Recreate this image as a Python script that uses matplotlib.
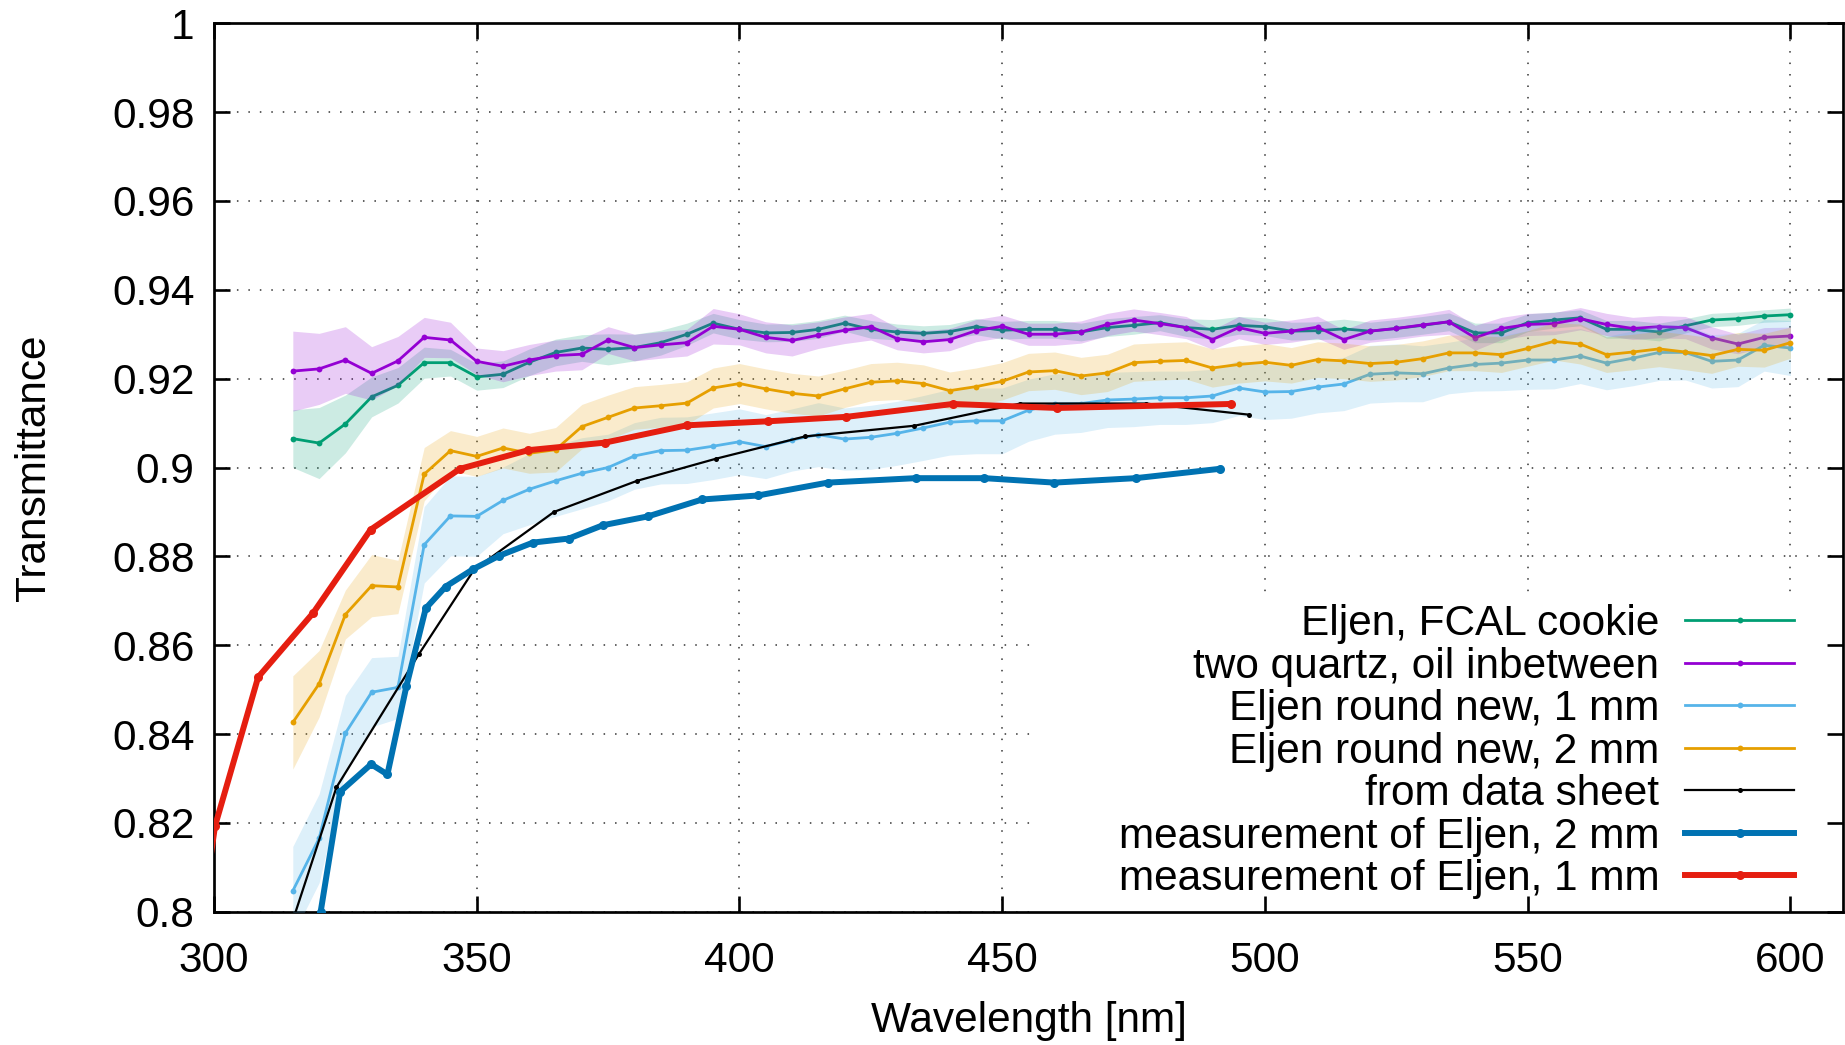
import matplotlib
matplotlib.use("Agg")
import matplotlib.pyplot as plt
from matplotlib.patches import Rectangle
from matplotlib.ticker import FuncFormatter
import numpy as np

plt.rcParams['font.family'] = ['Liberation Sans', 'DejaVu Sans']

# ------------------------------------------------------------------
# data
# ------------------------------------------------------------------
# wavelength grid of the four spectrometer scans (nm)
wl_scan = [315, 320, 325, 330, 335, 340, 345, 350, 355, 360, 365, 370, 375, 380,
           385, 390, 395, 400, 405, 410, 415, 420, 425, 430, 435, 440, 445, 450,
           455, 460, 465, 470, 475, 480, 485, 490, 495, 500, 505, 510, 515, 520,
           525, 530, 535, 540, 545, 550, 555, 560, 565, 570, 575, 580, 585, 590,
           595, 600]

# Eljen, FCAL cookie
cookie_T = [0.9065, 0.9055, 0.9098, 0.9159, 0.9185, 0.9236, 0.9236, 0.9204, 0.9210,
            0.9237, 0.9259, 0.9269, 0.9266, 0.9270, 0.9281, 0.9300, 0.9325, 0.9311,
            0.9303, 0.9304, 0.9311, 0.9325, 0.9311, 0.9305, 0.9302, 0.9306, 0.9317,
            0.9309, 0.9311, 0.9311, 0.9305, 0.9315, 0.9320, 0.9326, 0.9315, 0.9311,
            0.9320, 0.9317, 0.9307, 0.9308, 0.9312, 0.9307, 0.9313, 0.9320, 0.9328,
            0.9303, 0.9303, 0.9326, 0.9332, 0.9337, 0.9311, 0.9311, 0.9305, 0.9319,
            0.9332, 0.9335, 0.9341, 0.9344]
cookie_err = [0.0065, 0.0080, 0.0065, 0.0045, 0.0040, 0.0035, 0.0030, 0.0030, 0.0030,
              0.0030, 0.0030, 0.0030, 0.0035, 0.0030, 0.0028, 0.0025, 0.0022, 0.0022,
              0.0020, 0.0020, 0.0020, 0.0018, 0.0020, 0.0018, 0.0017, 0.0016, 0.0018,
              0.0020, 0.0020, 0.0020, 0.0020, 0.0020, 0.0020, 0.0018, 0.0020, 0.0022,
              0.0020, 0.0020, 0.0020, 0.0020, 0.0022, 0.0020, 0.0020, 0.0020, 0.0020,
              0.0022, 0.0022, 0.0020, 0.0018, 0.0018, 0.0020, 0.0020, 0.0020, 0.0016,
              0.0015, 0.0015, 0.0014, 0.0015]

# two quartz, oil inbetween
quartz_T = [0.9217, 0.9222, 0.9242, 0.9212, 0.9240, 0.9293, 0.9287, 0.9239, 0.9228,
            0.9242, 0.9252, 0.9255, 0.9287, 0.9270, 0.9276, 0.9281, 0.9318, 0.9311,
            0.9293, 0.9286, 0.9298, 0.9309, 0.9317, 0.9290, 0.9283, 0.9288, 0.9308,
            0.9318, 0.9300, 0.9300, 0.9305, 0.9322, 0.9332, 0.9324, 0.9315, 0.9288,
            0.9315, 0.9302, 0.9307, 0.9316, 0.9288, 0.9307, 0.9313, 0.9321, 0.9328,
            0.9292, 0.9313, 0.9322, 0.9324, 0.9335, 0.9322, 0.9313, 0.9317, 0.9315,
            0.9292, 0.9278, 0.9293, 0.9296]
quartz_err = [0.0090, 0.0080, 0.0075, 0.0060, 0.0055, 0.0045, 0.0040, 0.0030, 0.0035,
              0.0035, 0.0035, 0.0035, 0.0030, 0.0030, 0.0030, 0.0030, 0.0040, 0.0035,
              0.0035, 0.0035, 0.0030, 0.0030, 0.0030, 0.0025, 0.0025, 0.0025, 0.0025,
              0.0025, 0.0025, 0.0025, 0.0025, 0.0025, 0.0025, 0.0025, 0.0025, 0.0022,
              0.0025, 0.0025, 0.0025, 0.0025, 0.0022, 0.0025, 0.0025, 0.0025, 0.0028,
              0.0028, 0.0025, 0.0025, 0.0025, 0.0025, 0.0025, 0.0025, 0.0025, 0.0025,
              0.0025, 0.0022, 0.0022, 0.0020]

# Eljen round new, 1 mm
round1_T = [0.8047, 0.8165, 0.8402, 0.8494, 0.8505, 0.8826, 0.8891, 0.8890, 0.8926,
            0.8951, 0.8970, 0.8987, 0.9000, 0.9026, 0.9038, 0.9039, 0.9048, 0.9058,
            0.9047, 0.9062, 0.9074, 0.9064, 0.9068, 0.9077, 0.9089, 0.9102, 0.9105,
            0.9105, 0.9129, 0.9143, 0.9144, 0.9152, 0.9154, 0.9157, 0.9157, 0.9161,
            0.9179, 0.9170, 0.9171, 0.9181, 0.9188, 0.9210, 0.9213, 0.9211, 0.9224,
            0.9232, 0.9235, 0.9242, 0.9242, 0.9251, 0.9235, 0.9246, 0.9259, 0.9259,
            0.9239, 0.9242, 0.9275, 0.9269]
round1_err = [0.0100, 0.0100, 0.0085, 0.0078, 0.0070, 0.0086, 0.0090, 0.0090, 0.0075,
              0.0080, 0.0080, 0.0080, 0.0075, 0.0075, 0.0075, 0.0075, 0.0075, 0.0074,
              0.0072, 0.0070, 0.0072, 0.0070, 0.0072, 0.0072, 0.0073, 0.0074, 0.0074,
              0.0074, 0.0070, 0.0068, 0.0065, 0.0062, 0.0062, 0.0060, 0.0060, 0.0060,
              0.0062, 0.0062, 0.0060, 0.0058, 0.0060, 0.0065, 0.0065, 0.0063, 0.0058,
              0.0060, 0.0062, 0.0066, 0.0065, 0.0062, 0.0060, 0.0062, 0.0063, 0.0062,
              0.0060, 0.0060, 0.0058, 0.0062]

# Eljen round new, 2 mm
round2_T = [0.8426, 0.8513, 0.8669, 0.8734, 0.8731, 0.8985, 0.9038, 0.9025, 0.9044,
            0.9032, 0.9040, 0.9092, 0.9113, 0.9134, 0.9139, 0.9145, 0.9179, 0.9189,
            0.9177, 0.9167, 0.9161, 0.9177, 0.9192, 0.9195, 0.9189, 0.9173, 0.9182,
            0.9194, 0.9215, 0.9218, 0.9206, 0.9213, 0.9236, 0.9239, 0.9241, 0.9224,
            0.9232, 0.9237, 0.9230, 0.9243, 0.9240, 0.9234, 0.9237, 0.9245, 0.9258,
            0.9258, 0.9254, 0.9268, 0.9284, 0.9278, 0.9254, 0.9260, 0.9267, 0.9260,
            0.9252, 0.9266, 0.9264, 0.9281]
round2_err = [0.0105, 0.0075, 0.0055, 0.0070, 0.0060, 0.0060, 0.0045, 0.0045, 0.0045,
              0.0045, 0.0050, 0.0050, 0.0050, 0.0048, 0.0048, 0.0048, 0.0045, 0.0045,
              0.0045, 0.0045, 0.0045, 0.0042, 0.0042, 0.0042, 0.0042, 0.0042, 0.0042,
              0.0042, 0.0042, 0.0042, 0.0042, 0.0042, 0.0042, 0.0042, 0.0042, 0.0043,
              0.0042, 0.0042, 0.0040, 0.0040, 0.0040, 0.0040, 0.0040, 0.0040, 0.0040,
              0.0040, 0.0040, 0.0040, 0.0042, 0.0045, 0.0040, 0.0040, 0.0040, 0.0040,
              0.0040, 0.0038, 0.0038, 0.0035]

# from data sheet
sheet_wl = [310.0, 323.3, 339.0, 349.5, 364.7, 380.5, 395.6, 412.5, 433.3, 453.4,
            477.3, 496.9]
sheet_T = [0.780, 0.828, 0.858, 0.877, 0.890, 0.897, 0.902, 0.907, 0.9094, 0.9144,
           0.9144, 0.9119]

# measurement of Eljen, 2 mm
meas2_wl = [320.3, 324.0, 329.9, 333.0, 336.6, 340.3, 344.1, 349.3, 354.2, 360.7,
            367.5, 374.0, 382.6, 392.9, 403.5, 416.8, 433.5, 446.6, 459.9, 475.4,
            491.4]
meas2_T = [0.8000, 0.8270, 0.8332, 0.8309, 0.8507, 0.8683, 0.8732, 0.8771, 0.8801,
           0.8831, 0.8840, 0.8870, 0.8890, 0.8928, 0.8937, 0.8966, 0.8976, 0.8976,
           0.8966, 0.8976, 0.8997]

# measurement of Eljen, 1 mm
meas1_wl = [296.0, 300.2, 308.4, 318.9, 329.8, 346.8, 359.8, 374.4, 390.0, 405.4,
            420.3, 440.6, 460.5, 493.5]
meas1_T = [0.785, 0.8193, 0.8528, 0.8673, 0.8860, 0.8997, 0.9039, 0.9056, 0.9095,
           0.9104, 0.9114, 0.9143, 0.9134, 0.9143]

x_ticks = [300, 350, 400, 450, 500, 550, 600]
y_ticks = [0.8, 0.82, 0.84, 0.86, 0.88, 0.9, 0.92, 0.94, 0.96, 0.98, 1.0]

# gnuplot default colours
c_green = '#009e73'
c_purple = '#9400d3'
c_sky = '#56b4e9'
c_orange = '#e69f00'
c_blue = '#0072b2'
c_red = '#e51e10'

FS = 30.5
W, H = 1845, 1045
rect = [214 / W, 1 - 911.7 / H, (1843 - 214) / W, (911.7 - 23.3) / H]

fig = plt.figure(figsize=(W / 100, H / 100), dpi=100)

# grid lives on its own axes underneath, so the opaque key can hide it
gax = fig.add_axes(rect, zorder=0)
gax.set_xlim(300, 610)
gax.set_ylim(0.8, 1.0)
gax.set_xticks(x_ticks)
gax.set_yticks(y_ticks)
gax.grid(True, color='#333333', lw=1.1, linestyle=(0, (1, 6.5)))
gax.tick_params(length=0, labelbottom=False, labelleft=False)
for s in gax.spines.values():
    s.set_visible(False)

ax = fig.add_axes(rect, zorder=1)
ax.patch.set_alpha(0)
ax.set_xlim(300, 610)
ax.set_ylim(0.8, 1.0)

# opaque key area
ax.add_patch(Rectangle((0.5058, 0), 0.4942, 0.3531, transform=ax.transAxes,
                       facecolor='white', edgecolor='none', zorder=1.2))

handles = []
z = 3
for T, err, col, lab in [(cookie_T, cookie_err, c_green, 'Eljen, FCAL cookie'),
                         (quartz_T, quartz_err, c_purple, 'two quartz, oil inbetween'),
                         (round1_T, round1_err, c_sky, 'Eljen round new, 1 mm'),
                         (round2_T, round2_err, c_orange, 'Eljen round new, 2 mm')]:
    T = np.array(T)
    err = np.array(err)
    ax.fill_between(wl_scan, T - err, T + err, color=col, alpha=0.2, lw=0, zorder=z)
    ln, = ax.plot(wl_scan, T, '-o', color=col, lw=2.0, ms=4.2, mew=0, label=lab,
                  zorder=z + 1)
    handles.append(ln)
    z += 2

ln, = ax.plot(sheet_wl, sheet_T, '-o', color='black', lw=1.6, ms=3.6, mew=0,
              label='from data sheet', zorder=z)
handles.append(ln)
ln, = ax.plot(meas2_wl, meas2_T, '-o', color=c_blue, lw=4.3, ms=6.5, mew=0,
              label='measurement of Eljen, 2 mm', zorder=z + 1)
handles.append(ln)
ln, = ax.plot(meas1_wl, meas1_T, '-o', color=c_red, lw=4.3, ms=6.5, mew=0,
              label='measurement of Eljen, 1 mm', zorder=z + 2)
handles.append(ln)

ax.set_xticks(x_ticks)
ax.set_yticks(y_ticks)
ax.yaxis.set_major_formatter(FuncFormatter(lambda v, p: '%g' % v))
ax.tick_params(direction='in', top=True, right=True, length=11.5, width=1.9,
               labelsize=FS)
ax.tick_params(axis='y', pad=14)
ax.tick_params(axis='x', pad=21)
for s in ax.spines.values():
    s.set_linewidth(1.95)

ax.set_xlabel('Wavelength [nm]', fontsize=FS)
ax.set_ylabel('Transmittance', fontsize=FS)
ax.xaxis.set_label_coords(0.5, -0.1)
ax.yaxis.set_label_coords(-0.0985, 0.5)

leg = ax.legend(handles=handles, loc='lower right', bbox_to_anchor=(0.9699, 0.0143),
                borderaxespad=0, borderpad=0, frameon=False, markerfirst=False,
                handlelength=2.57, handletextpad=0.61, labelspacing=0.058,
                fontsize=FS, numpoints=1)
leg.set_zorder(20)

fig.savefig('out.png', dpi=100)
